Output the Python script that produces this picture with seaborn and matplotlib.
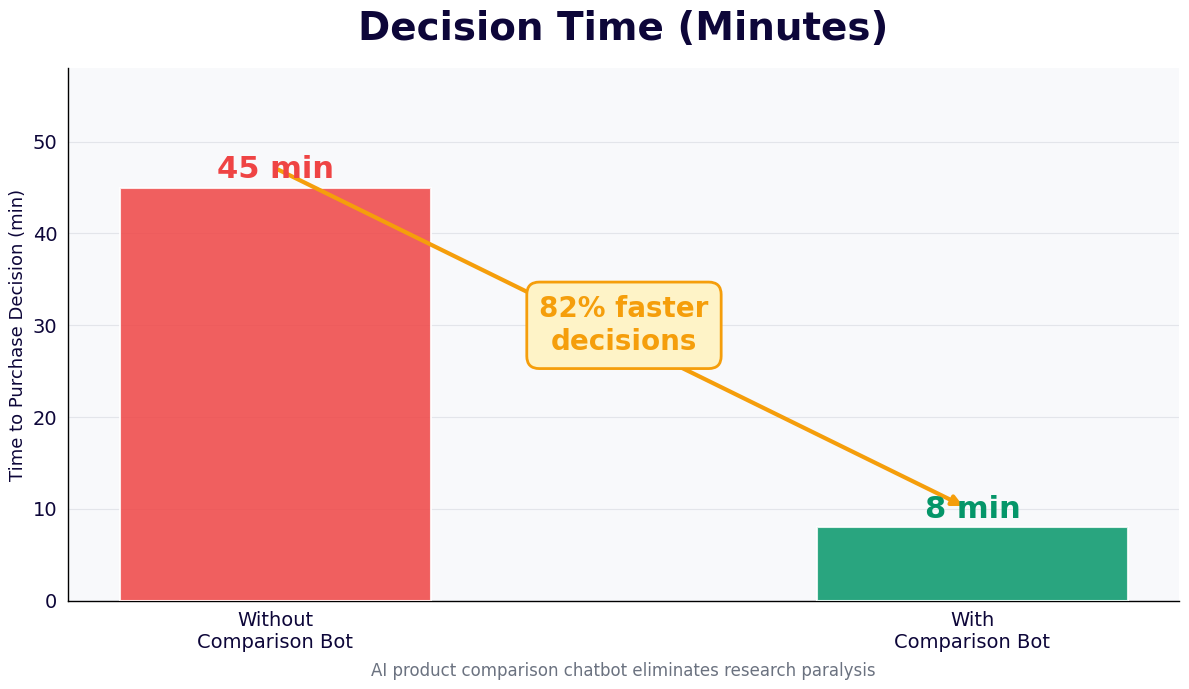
import matplotlib
matplotlib.use("Agg")
import matplotlib.pyplot as plt
import pandas as pd
import seaborn as sns

# chart data
groups = ["Without\nComparison Bot", "With\nComparison Bot"]
minutes = [45, 8]
value_labels = ["45 min", "8 min"]
callout = "82% faster\ndecisions"

NAVY = "#0d0639"
RED = "#ef4444"
GREEN = "#059669"
AMBER = "#f59e0b"

sns.set_theme(style="white")
plt.rcParams["font.family"] = ["DejaVu Sans"]

df = pd.DataFrame({"group": groups, "minutes": minutes})

fig, ax = plt.subplots(figsize=(11.89, 6.89), dpi=100)
fig.subplots_adjust(left=0.057, right=0.992, top=0.901, bottom=0.128)
ax.set_facecolor("#f8f9fb")

sns.barplot(data=df, x="group", y="minutes", hue="group", palette=[RED, GREEN],
            saturation=1, width=0.445, alpha=0.85, edgecolor="white", linewidth=1.5,
            legend=False, ax=ax, zorder=3)

ax.set_xlim(-0.298, 1.297)
ax.set_ylim(0, 58)
ax.yaxis.grid(True, color="#e3e5ea", linewidth=0.8, zorder=0)
ax.set_axisbelow(True)
for side in ["top", "right"]:
    ax.spines[side].set_visible(False)
for side in ["left", "bottom"]:
    ax.spines[side].set_color("black")
    ax.spines[side].set_linewidth(1.0)

ax.tick_params(axis="both", labelsize=14, colors=NAVY, length=4, width=0.8)
ax.tick_params(axis="both", color="black")
ax.set_xlabel("")
ax.set_ylabel("Time to Purchase Decision (min)", fontsize=13, color=NAVY)
ax.set_title("Decision Time (Minutes)", fontsize=28, fontweight="bold", color=NAVY, pad=20)

# value labels above each bar
for i, (v, lab, c) in enumerate(zip(minutes, value_labels, [RED, GREEN])):
    ax.text(i, v + 0.4, lab, ha="center", va="bottom", fontsize=22,
            fontweight="bold", color=c, zorder=5)

# arrow between bar tops
ax.annotate("", xy=(0.99, minutes[1] + 2.2), xytext=(0, minutes[0] + 2.1),
            arrowprops=dict(arrowstyle="-|>", color=AMBER, lw=3, mutation_scale=15),
            zorder=4)
ax.text(0.5, 30, callout, ha="center", va="center", fontsize=20, fontweight="bold",
        color=AMBER, zorder=6, linespacing=1.25,
        bbox=dict(boxstyle="round,pad=0.45", facecolor="#fef3c7", edgecolor=AMBER, linewidth=2))

fig.text(0.524, 0.026, "AI product comparison chatbot eliminates research paralysis",
         ha="center", va="center", fontsize=12, color="#6b7280")

fig.savefig("out.png", dpi=100)
